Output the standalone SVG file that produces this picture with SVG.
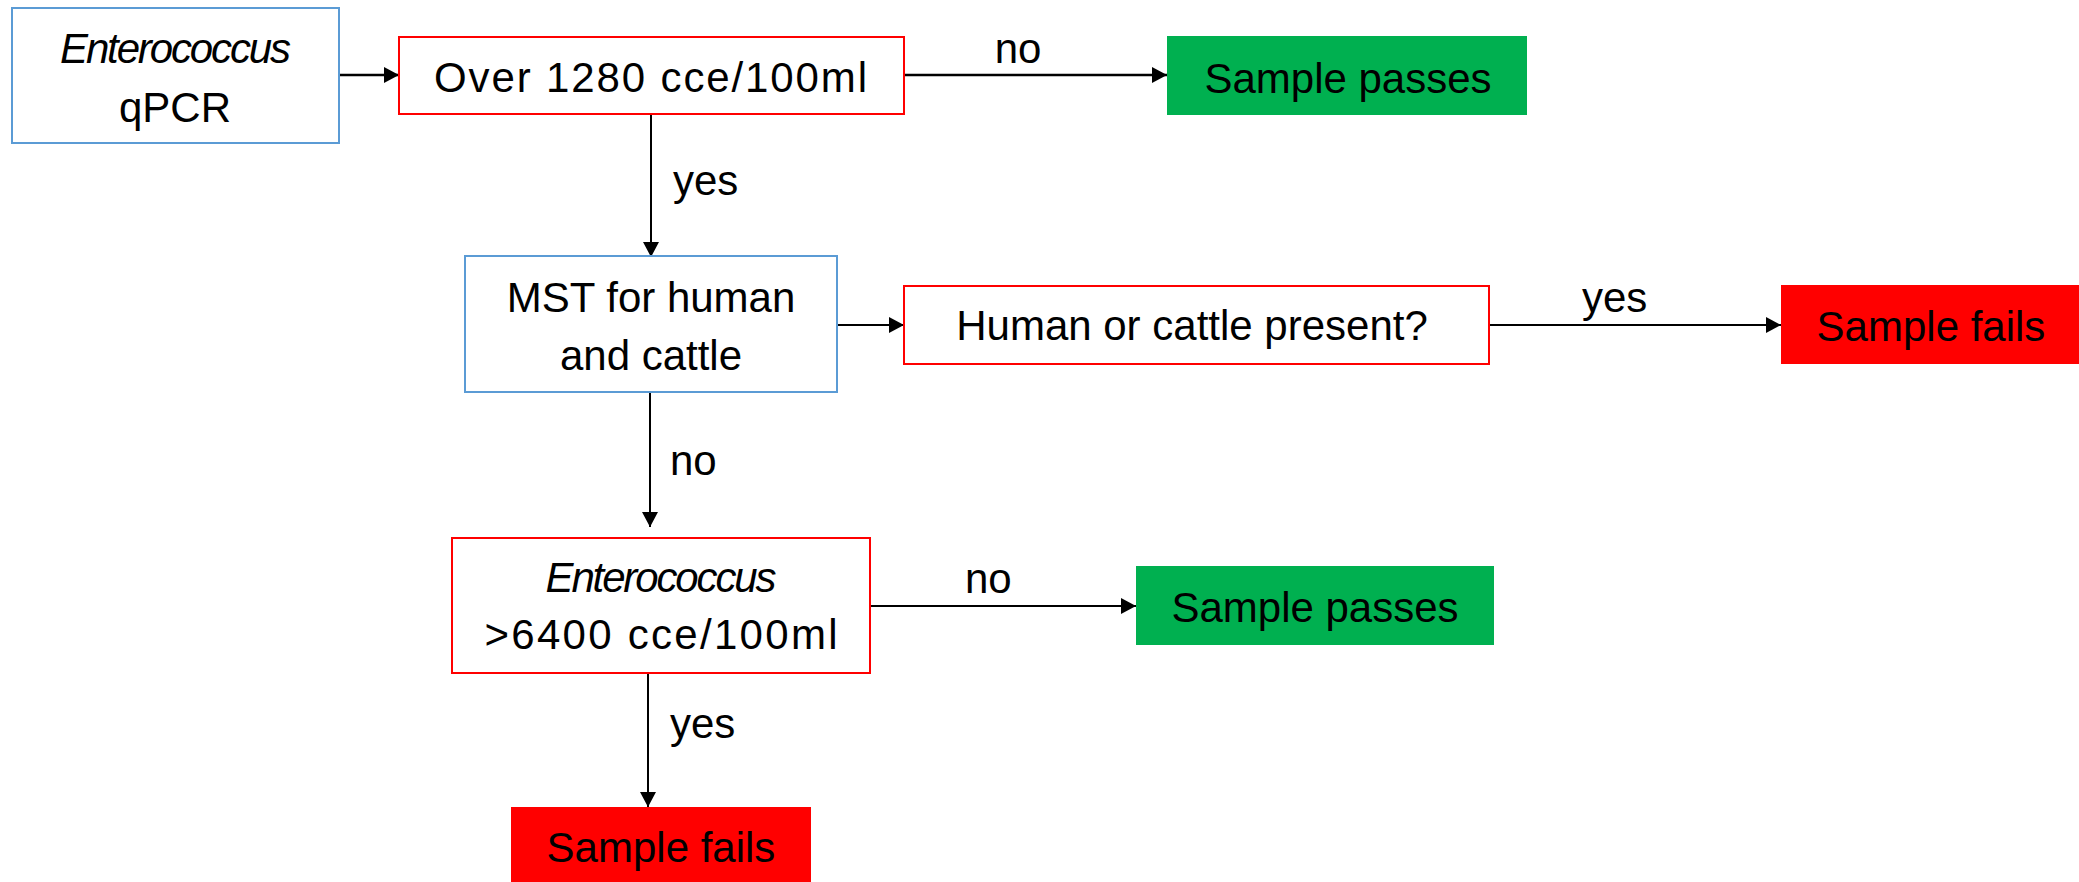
<svg xmlns="http://www.w3.org/2000/svg" width="2079" height="882" viewBox="0 0 2079 882">
<style>
text{font-family:"Liberation Sans",Arial,sans-serif;font-size:42px;fill:#000}
.c{text-anchor:middle}
.i{font-style:italic}
.blue{fill:#fff;stroke:#5B9BD5;stroke-width:2}
.red{fill:#fff;stroke:#FF0000;stroke-width:2}
.pass{fill:#00B050}
.fail{fill:#FF0000}
.conn line{stroke:#000;stroke-width:2;marker-end:url(#ah)}
</style>
<defs>
<marker id="ah" viewBox="0 0 15 16" refX="15" refY="8" markerWidth="15" markerHeight="16" markerUnits="userSpaceOnUse" orient="auto">
<path d="M0,0 L15,8 L0,16 Z" fill="#000"/>
</marker>
</defs>
<rect width="2079" height="882" fill="#fff"/>
<g class="conn" id="connectors">
<line x1="339" y1="75" x2="399" y2="75" style="stroke-width:2.5"/>
<line x1="904" y1="75" x2="1167" y2="75" style="stroke-width:2.5"/>
<line x1="651" y1="114" x2="651" y2="257"/>
<line x1="837" y1="325" x2="904" y2="325"/>
<line x1="1489" y1="325" x2="1781" y2="325"/>
<line x1="650" y1="392" x2="650" y2="527"/>
<line x1="870" y1="606" x2="1136" y2="606"/>
<line x1="648" y1="673" x2="648" y2="807"/>
<text x="1018" y="63" class="c">no</text>
<text x="673" y="195">yes</text>
<text x="1582" y="312">yes</text>
<text x="670" y="475">no</text>
<text x="965" y="593">no</text>
<text x="670" y="738">yes</text>
</g>
<g id="n-qpcr">
<rect x="12" y="8" width="327" height="135" class="blue"/>
<text x="175.5" y="63" class="c i" textLength="231" lengthAdjust="spacing">Enterococcus</text>
<text x="175" y="122" class="c">qPCR</text>
</g>
<g id="n-over1280">
<rect x="399" y="37" width="505" height="77" class="red"/>
<text x="650.5" y="92" class="c" textLength="433" lengthAdjust="spacing">Over 1280 cce/100ml</text>
</g>
<g id="n-pass1">
<rect x="1167" y="36" width="360" height="79" class="pass"/>
<text x="1348" y="93" class="c">Sample passes</text>
</g>
<g id="n-mst">
<rect x="465" y="256" width="372" height="136" class="blue"/>
<text x="651" y="312" class="c">MST for human</text>
<text x="651" y="370" class="c">and cattle</text>
</g>
<g id="n-present">
<rect x="904" y="286" width="585" height="78" class="red"/>
<text x="1192" y="340" class="c">Human or cattle present?</text>
</g>
<g id="n-fail1">
<rect x="1781" y="285" width="298" height="79" class="fail"/>
<text x="1931" y="341" class="c">Sample fails</text>
</g>
<g id="n-over6400">
<rect x="452" y="538" width="418" height="135" class="red"/>
<text x="661" y="592" class="c i" textLength="231" lengthAdjust="spacing">Enterococcus</text>
<text x="661" y="649" class="c" textLength="353" lengthAdjust="spacing">&gt;6400 cce/100ml</text>
</g>
<g id="n-pass2">
<rect x="1136" y="566" width="358" height="79" class="pass"/>
<text x="1315" y="622" class="c">Sample passes</text>
</g>
<g id="n-fail2">
<rect x="511" y="807" width="300" height="75" class="fail"/>
<text x="661" y="862" class="c">Sample fails</text>
</g>
</svg>
